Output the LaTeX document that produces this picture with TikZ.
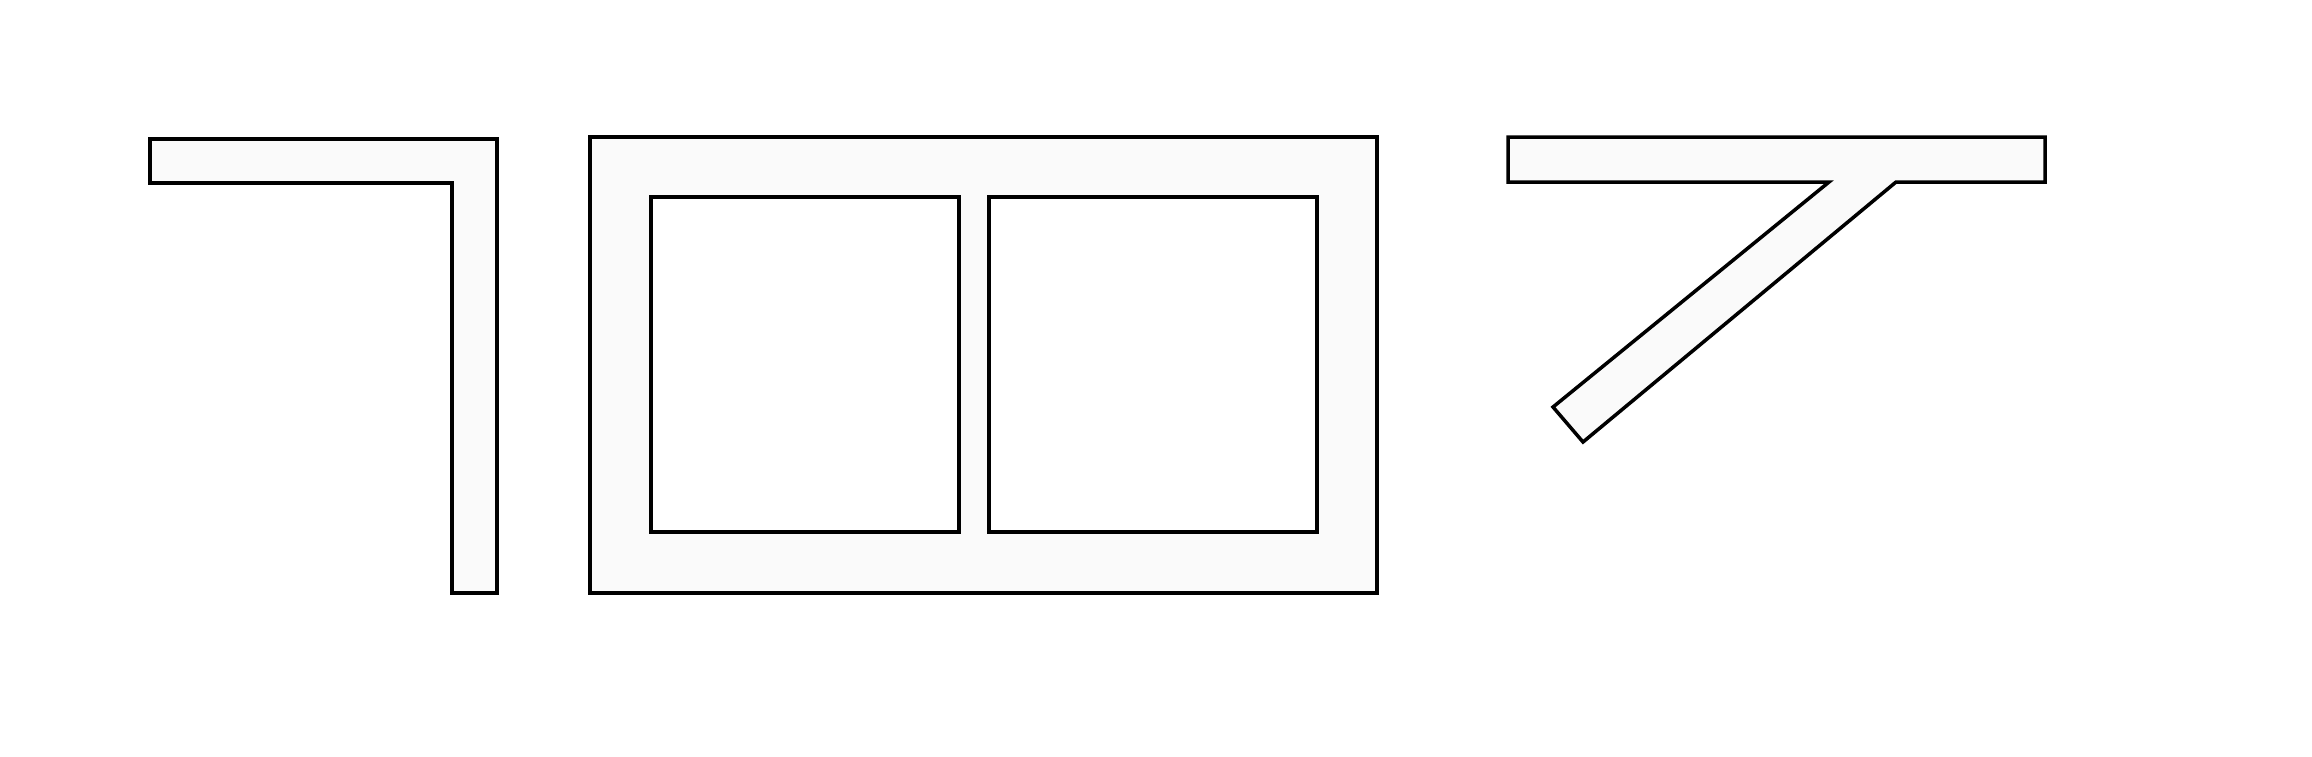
\documentclass[tikz,border=0pt]{standalone}
\usepackage{tikz}
\usetikzlibrary{positioning}
\definecolor{shapefill}{HTML}{FAFAFA}

\begin{document}
\begin{tikzpicture}[x=0.01cm, y=-0.01cm,
    glyph/.style={draw=black, line width=1pt, fill=shapefill, line join=miter}]
    \useasboundingbox (0, 0) rectangle (2312, 756);
    \fill[white] (0, 0) rectangle (2312, 756);

    % Left hook
    \draw[glyph] (150, 139) -- (497, 139) -- (497, 593) -- (452, 593)
        -- (452, 183) -- (150, 183) -- cycle;

    % Frame with two windows
    \draw[glyph, even odd rule] (590, 137) rectangle (1377, 593)
        (651, 197) rectangle (959, 532)
        (989, 197) rectangle (1317, 532);

    % Right stroke
    \draw[glyph] (1508, 137) -- (2045, 137) -- (2045, 182) -- (1896, 182)
        -- (1583, 442) -- (1553, 407) -- (1829, 182) -- (1508, 182) -- cycle;
\end{tikzpicture}
\end{document}
